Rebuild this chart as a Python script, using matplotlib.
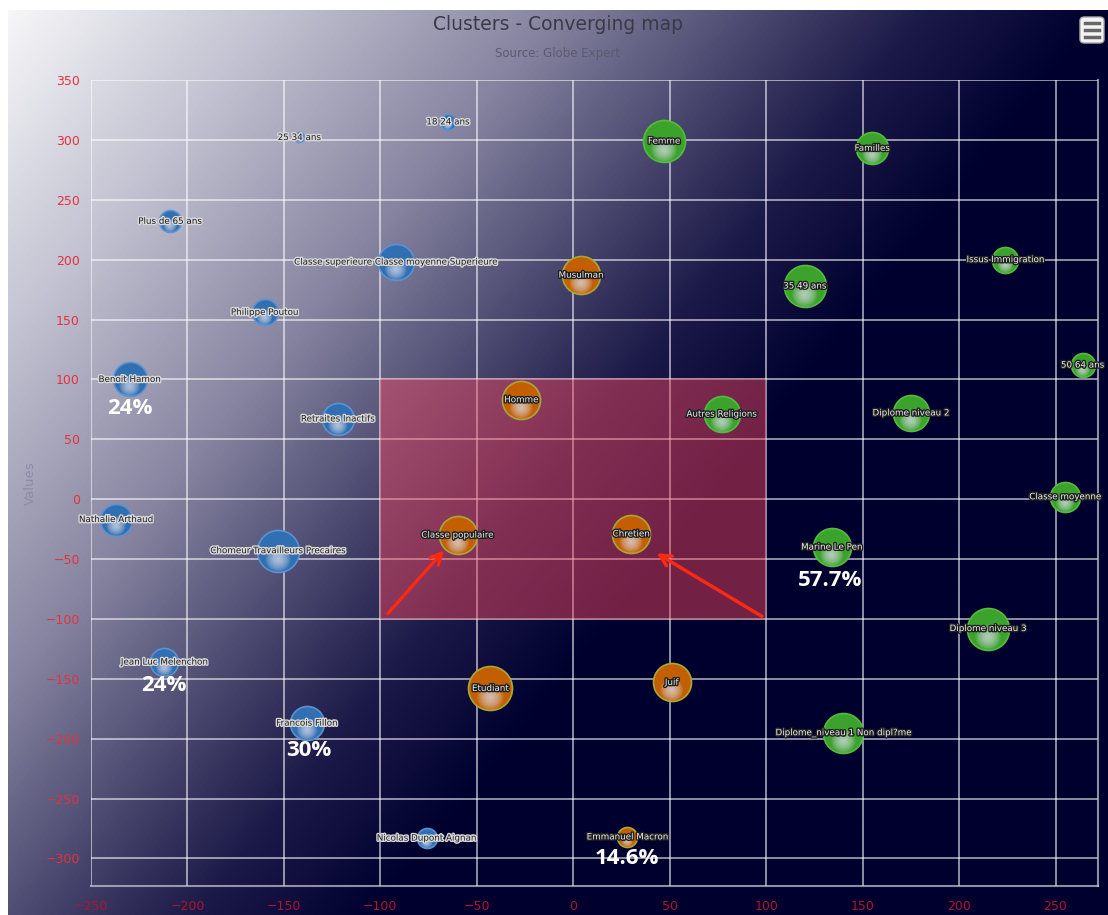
import numpy as np
import matplotlib
matplotlib.use('Agg')
from matplotlib import pyplot as plt
from matplotlib.colors import LinearSegmentedColormap
from matplotlib.patches import Rectangle, FancyBboxPatch
from matplotlib.transforms import offset_copy
import matplotlib.patheffects as pe

# --- data -------------------------------------------------------------
blue_names = ['25 34 ans', '18 24 ans', 'Plus de 65 ans', 'Classe superieure Classe moyenne Superieure',
	'Philippe Poutou', 'Benoit Hamon', 'Retraites Inactifs', 'Nathalie Arthaud',
	'Chomeur Travailleurs Precaires', 'Jean Luc Melenchon', 'Francois Fillon', 'Nicolas Dupont Aignan']
blue_x = [-142, -65, -209, -92, -160, -230, -122, -237, -153, -212, -138, -76]
blue_y = [302, 315, 232, 198, 156, 100, 67, -17, -43, -136, -187, -283]
blue_r = [5, 8, 11, 18, 13, 17, 16, 16, 21, 14, 17, 10]

orange_names = ['Musulman', 'Homme', 'Classe populaire', 'Chretien', 'Etudiant', 'Juif', 'Emmanuel Macron']
orange_x = [4, -27, -60, 30, -43, 51, 28]
orange_y = [187, 83, -30, -29, -158, -153, -282]
orange_r = [19, 19, 19, 19, 22, 19, 10]

green_names = ['Femme', 'Familles', 'Issus Immigration', '35 49 ans', '50 64 ans', 'Autres Religions',
	'Diplome niveau 2', 'Classe moyenne', 'Marine Le Pen', 'Diplome niveau 3', 'Diplome_niveau 1 Non dipl?me']
green_x = [47, 155, 224, 120, 264, 77, 175, 255, 134, 215, 140]
green_y = [299, 293, 200, 178, 112, 71, 72, 2, -40, -108, -195]
green_r = [21, 16, 13, 21, 12, 18, 18, 15, 19, 21, 20]

score_text = ['24%', '57.7%', '24%', '30%', '14.6%']
score_x = [-230, 133, -212, -137, 28]
score_y = [76, -68, -156, -210, -300]

zone_x = [-100, 100]
zone_y = [-100, 100]
arrow_tail = [(-97, -97), (99, -99)]
arrow_head = [(-66, -41), (42, -44)]

x_ticks = list(range(-250, 251, 50))
y_ticks = list(range(-300, 351, 50))

# --- figure -----------------------------------------------------------
W, H = 1108, 915
fig = plt.figure(figsize=(W / 100, H / 100), dpi=100)
fig.patch.set_facecolor('white')

# gradient background of the chart box
bg = fig.add_axes([8 / W, 0, 1 - 8 / W, 1 - 10 / H])
bg.set_axis_off()
xn, yn = np.meshgrid(np.linspace(0, 1, 400), np.linspace(0, 1, 400))
t = 0.6 * xn + 0.4 * yn
cmap = LinearSegmentedColormap.from_list('bg', [
	(0.0, '#f6f6f8'), (0.15, '#c0c0d0'), (0.30, '#85839f'),
	(0.43, '#403e66'), (0.50, '#1c1a48'), (0.60, '#00002e'), (1.0, '#00002e')])
bg.imshow(t, cmap=cmap, vmin=0, vmax=1, aspect='auto', extent=(0, 1, 1, 0))
bg.set_xlim(0, 1)
bg.set_ylim(1, 0)

ax = fig.add_axes([91 / W, 29 / H, (1098 - 91) / W, (886 - 80) / H])
ax.set_facecolor('none')
ax.set_xlim(-250, 272)
ax.set_ylim(-323, 350)
ax.set_xticks(x_ticks)
ax.set_yticks(y_ticks)
ax.grid(True, color='white', alpha=0.6, lw=1.3, zorder=1)
ax.set_axisbelow(True)
for side in ['left', 'top']:
	ax.spines[side].set_visible(False)
for side in ['right', 'bottom']:
	ax.spines[side].set_color('#c8c8d8')
	ax.spines[side].set_alpha(0.7)
	ax.spines[side].set_linewidth(1.5)
ax.tick_params(length=0, pad=8)
for lab in ax.get_yticklabels():
	lab.set_color('#e8303c')
	lab.set_fontsize(9)
for lab in ax.get_xticklabels():
	lab.set_color('#b0142e')
	lab.set_fontsize(9)
ax.tick_params(axis='x', pad=10)
ax.set_ylabel('Values', color='#8c8ca2', fontsize=9.5, labelpad=6)

# highlighted zone
ax.add_patch(Rectangle((zone_x[0], zone_y[0]), zone_x[1] - zone_x[0], zone_y[1] - zone_y[0],
	facecolor='#f04660', alpha=0.48, edgecolor='none', zorder=2))

def draw_bubbles(xs, ys, rs, names, color, edge, txt, halo):
	for x, y, r, name in zip(xs, ys, rs, names):
		ax.scatter([x], [y], s=(2 * r * 0.72) ** 2, c=color, edgecolors=edge, linewidths=1.2, zorder=3)
		# whitish glow in the lower half of the bubble
		tr = offset_copy(ax.transData, fig=fig, x=0, y=-0.4 * r * 0.72, units='points')
		for k in range(10):
			rad = 0.6 * r * (1 - k / 10)
			ax.scatter([x], [y], s=(2 * rad * 0.72) ** 2, c='#dcdcec', alpha=0.13,
				edgecolors='none', transform=tr, zorder=4)
		ax.text(x, y, name, ha='center', va='center', fontsize=6.3, color=txt, zorder=6,
			path_effects=[pe.withStroke(linewidth=2, foreground=halo)])

draw_bubbles(blue_x, blue_y, blue_r, blue_names, '#2f6fb2', '#5a92d2', '#1e1e1e', '#d8d8d8')
draw_bubbles(orange_x, orange_y, orange_r, orange_names, '#c45f00', '#a8a838', '#eeeeee', '#202020')
draw_bubbles(green_x, green_y, green_r, green_names, '#3ba22b', '#55bb40', '#eeeeee', '#202020')

for (x0, y0), (x1, y1) in zip(arrow_tail, arrow_head):
	ax.annotate('', xy=(x1, y1), xytext=(x0, y0), zorder=7,
		arrowprops=dict(arrowstyle='->', color='#ff2a10', lw=2.4, mutation_scale=20))

for s, x, y in zip(score_text, score_x, score_y):
	ax.text(x, y, s, ha='center', va='center', fontsize=16, fontweight='bold',
		color='white', family=['Open Sans', 'DejaVu Sans'], zorder=8)

# titles
fig.text(558 / W, 1 - 25 / H, 'Clusters - Converging map', ha='center', va='center',
	fontsize=13.5, color='#3a3a46')
fig.text(558 / W, 1 - 54 / H, 'Source: Globe Expert', ha='center', va='center',
	fontsize=8.5, color='#5a5a70')

# export menu button
fig.patches.append(FancyBboxPatch((1080 / W, 1 - 43 / H), 24 / W, 26 / H,
	boxstyle='round,pad=0,rounding_size=0.004', transform=fig.transFigure,
	facecolor='#f4f4f4', edgecolor='#aaaaaa', lw=1))
for yy in [23, 30, 37]:
	fig.add_artist(plt.Line2D([1085 / W, 1099 / W], [1 - yy / H, 1 - yy / H],
		transform=fig.transFigure, color='#666666', lw=2.5))

fig.savefig('out.png', dpi=100)
